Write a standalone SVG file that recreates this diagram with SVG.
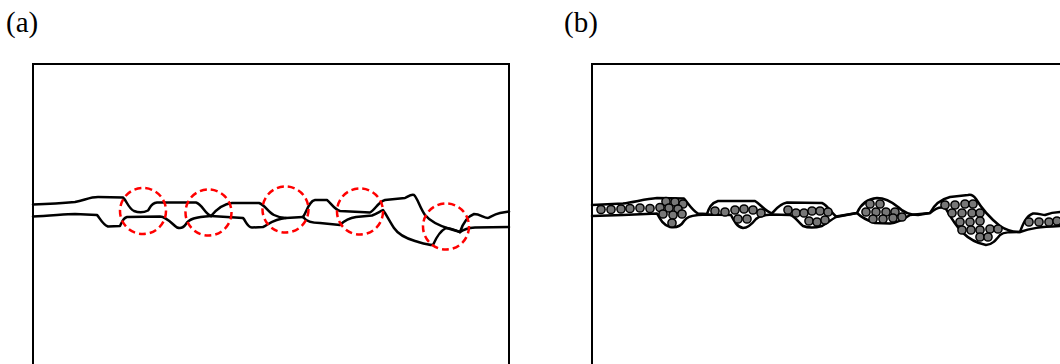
<svg xmlns="http://www.w3.org/2000/svg" xmlns:xlink="http://www.w3.org/1999/xlink" width="1060" height="364" viewBox="0 0 1060 364">
  <style>
    .frame { fill: none; stroke: #000; stroke-width: 2; }
    .crack { fill: none; stroke: #000; stroke-width: 2.5; stroke-linecap: round; stroke-linejoin: round; }
    .zone { fill: none; stroke: #ff0000; stroke-width: 2.5; stroke-dasharray: 7 4; }
    .label { font-family: "Liberation Serif", "Times New Roman", serif; font-size: 29px; fill: #000; }
  </style>
  <defs>
    <circle id="p" r="4.1" fill="#777" stroke="#000" stroke-width="1.5"/>
  </defs>

  <rect width="1060" height="364" fill="#fff"/>

  <!-- panel (a): bare interlocking crack -->
  <g id="panel-a">
    <text class="label" x="6" y="32">(a)</text>
    <path class="frame" d="M33,366 V64 H509 V366"/>
    <g id="crack-a">
      <path class="crack" d="M33,204.5 C50,204 65,203 75,202 C85,200 90,197 98,197 L123,197.5 C127,201 128,208 134,211 C139,213 145,212 148,210.5 C150,208 151,203 157,202.5 L196,202.5 C202,204 205,214 211,216"/>
      <path class="crack" d="M33,216.5 C50,216 65,214 75,214 L97,215 C100,218 102,224 108,226.5 L120,226 C122,222 123,218 127,217 L160,216.5 C167,217 172,224 177,227.5 C181,229 184,227 186,224 C189,219 195,217 211,216"/>
      <path class="crack" d="M211,216 C216,210 222,204 232,203 L259,203 C265,205 268,212 274,215 C278,217 281,218 286,218 L303,217"/>
      <path class="crack" d="M211,216 L243,218 C246,221 247,227 252,227.5 L263,227 C268,225 273,219 286,218"/>
      <path class="crack" d="M303,217 C307,211 309,201 315,200 L327,200 C331,203 334,209 340,211 L370,212.5 C375,210 378,202 385,200 L405,198 C409,196 411,194 414,195 C417,197 420,208 425,215 C430,221 440,226 450,229 L460,232"/>
      <path class="crack" d="M303,217 C306,221 310,223 320,223 L340,225 C344,221 348,218 356,217 L372,215.5 C376,214 379,212 383,210 C386,214 390,222 394,228 C398,234 405,238 415,241 C422,243 427,245 433,245 C436,238 440,231 446,228 C452,228 456,231 460,232"/>
      <path class="crack" d="M460,232 C462,226 466,217 474,214 C480,214 484,218 488,218 C492,216 495,214 500,213 L509,211.5"/>
      <path class="crack" d="M460,232 C464,229 468,228 475,227.5 L509,227"/>
    </g>
    <g id="zones-a">
      <circle class="zone" cx="143" cy="211" r="23"/>
      <circle class="zone" cx="208.5" cy="212.5" r="23"/>
      <circle class="zone" cx="285.5" cy="209.5" r="23"/>
      <circle class="zone" cx="360" cy="211.5" r="23"/>
      <circle class="zone" cx="446" cy="226.5" r="23"/>
    </g>
  </g>

  <!-- panel (b): crack with particle-filled pockets -->
  <g id="panel-b">
    <text class="label" x="564" y="32">(b)</text>
    <path class="frame" d="M592,366 V64 H1062"/>
    <g id="crack-b">
      <path class="crack" d="M592,205 L623,203.5 C635,202 645,199 657,198 L684,198.5 C688,203 692,210 698,213.5 L707,214 C709,208 711,203 718,201 L755,201 C760,204 765,211 772,213.5 C775,210 779,204 787,202.5 L822,203 C827,205 830,211 836,216.5 L857,213 C860,206 866,199 877,198 C886,198 892,202 898,207 C903,212 908,215 918,215 L930,213 C933,207 938,200 950,197 L968,195 C972,194 974,196 976,199 C982,209 990,218 1000,226 C1006,230 1012,232 1020,232 C1023,224 1026,216 1033,213.5 C1038,213 1042,215 1045,215 C1050,213 1055,212 1062,212"/>
      <path class="crack" d="M592,216 L623,215 L657,213.5 C660,219 663,225 670,227 C676,228 681,226 684,221 C687,217 690,216 698,215 L707,214.5 L731,215 C734,221 737,227 743,228 C748,228 752,224 756,219 C759,216 763,215 772,214.5 L790,215 C795,216 798,222 803,226 C808,228 815,228 822,226 C827,223 831,220 836,217 L857,213 C860,216 866,220 875,223 L890,223.5 C898,223 904,219 910,215 L930,213 C936,208 942,206 946,209 C950,216 955,225 962,232 C968,238 976,243 986,245 C992,245 996,240 1000,235 C1004,232 1010,232 1020,232 C1030,228 1040,227 1062,226"/>
    </g>
    <g id="particles-b">
      <!-- pocket 1 -->
      <use href="#p" x="601" y="209.5"/><use href="#p" x="611" y="209.5"/><use href="#p" x="621" y="209"/>
      <use href="#p" x="630" y="208.5"/><use href="#p" x="640" y="208"/><use href="#p" x="650" y="208.5"/>
      <use href="#p" x="666" y="201.5"/><use href="#p" x="675" y="202"/><use href="#p" x="683" y="204"/>
      <use href="#p" x="660" y="207.5"/><use href="#p" x="669" y="208"/><use href="#p" x="678" y="209"/>
      <use href="#p" x="663" y="214"/><use href="#p" x="673" y="215"/><use href="#p" x="682" y="214"/>
      <use href="#p" x="672" y="223"/>
      <!-- pocket 2 -->
      <use href="#p" x="715" y="211"/><use href="#p" x="725" y="212"/><use href="#p" x="735" y="210"/>
      <use href="#p" x="744" y="209"/><use href="#p" x="753" y="210"/><use href="#p" x="761" y="213"/>
      <use href="#p" x="738" y="219"/><use href="#p" x="747" y="219"/>
      <!-- pocket 3 -->
      <use href="#p" x="788" y="210"/><use href="#p" x="796" y="213"/><use href="#p" x="804" y="213"/>
      <use href="#p" x="812" y="211"/><use href="#p" x="820" y="211"/><use href="#p" x="828" y="212"/>
      <use href="#p" x="809" y="221"/><use href="#p" x="817" y="222"/><use href="#p" x="825" y="220"/>
      <!-- pocket 4 -->
      <use href="#p" x="870" y="204"/><use href="#p" x="880" y="204"/>
      <use href="#p" x="866" y="212"/><use href="#p" x="876" y="212"/><use href="#p" x="886" y="212"/><use href="#p" x="895" y="212"/>
      <use href="#p" x="873" y="219"/><use href="#p" x="883" y="219"/><use href="#p" x="893" y="218"/><use href="#p" x="902" y="217"/>
      <!-- pocket 5 -->
      <use href="#p" x="945" y="205"/><use href="#p" x="955" y="205"/><use href="#p" x="965" y="204"/><use href="#p" x="973" y="204"/>
      <use href="#p" x="952" y="213"/><use href="#p" x="962" y="213"/><use href="#p" x="972" y="213"/><use href="#p" x="980" y="213"/>
      <use href="#p" x="960" y="222"/><use href="#p" x="970" y="222"/><use href="#p" x="980" y="221"/>
      <use href="#p" x="962" y="230"/><use href="#p" x="971" y="230"/><use href="#p" x="980" y="230"/><use href="#p" x="990" y="229"/><use href="#p" x="998" y="229"/>
      <use href="#p" x="980" y="237"/><use href="#p" x="988" y="237"/>
      <!-- pocket 6 -->
      <use href="#p" x="1029" y="222"/><use href="#p" x="1039" y="222"/><use href="#p" x="1049" y="222"/><use href="#p" x="1057" y="221"/>
    </g>
  </g>
</svg>
